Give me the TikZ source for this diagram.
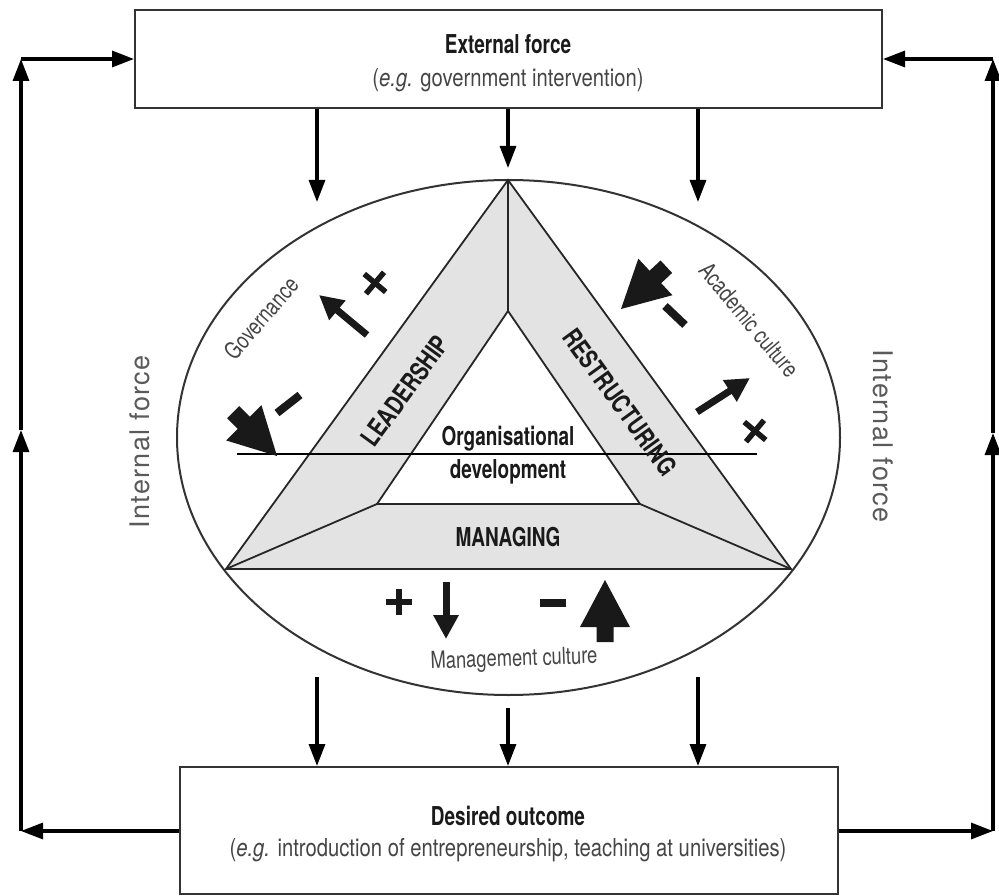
\documentclass[tikz,border=0pt]{standalone}
\usepackage{fontspec}
\setmainfont{TeX Gyre Heros}
\newfontfamily\condB[FakeStretch=0.73]{TeX Gyre Heros}
\newfontfamily\condBB[FakeStretch=0.77]{TeX Gyre Heros}
\newfontfamily\condR[FakeStretch=0.82]{TeX Gyre Heros}
\newfontfamily\condRR[FakeStretch=0.78]{TeX Gyre Heros}
\newfontfamily\wideR[LetterSpace=5]{TeX Gyre Heros}
\usetikzlibrary{arrows.meta}
\definecolor{bandgray}{HTML}{E3E3E3}
\definecolor{txtgray}{HTML}{454545}
\definecolor{lblgray}{HTML}{5A5A5A}
\definecolor{ink}{HTML}{1A1A1A}
\tikzset{
  boxstyle/.style={draw=black!80, line width=2pt, fill=white, inner sep=0pt},
  arr/.style={line width=3.2pt, draw=black, -{Triangle[length=22pt,width=16pt]}},
  titletext/.style={inner sep=0pt, text=ink, font=\condB\bfseries\fontsize{26}{28}\selectfont},
  subtext/.style={inner sep=0pt, text=txtgray, font=\condR\fontsize{24.7}{27}\selectfont},
  bandtext/.style={inner sep=0pt, text=ink, font=\condB\bfseries\fontsize{26}{28}\selectfont},
  rotbandtext/.style={inner sep=0pt, text=ink, font=\condBB\bfseries\fontsize{26}{28}\selectfont},
  graytext/.style={inner sep=0pt, text=txtgray, font=\condRR\fontsize{23.5}{25}\selectfont},
  forcetext/.style={inner sep=0pt, text=lblgray, font=\wideR\fontsize{27}{30}\selectfont},
  signline/.style={line width=5.5pt, draw=black!90},
  dashline/.style={line width=8pt, draw=black!90},
  thinarrow/.style={line width=7pt, draw=black!90, -{Triangle[length=24pt,width=24pt]}},
  bigarrow/.style={fill=black!90},
  triline/.style={line width=1.8pt, draw=black!85},
}
\newcommand\blockarrow[3]{\fill[bigarrow, shift={(#1,#2)}, rotate=#3] (0,0) -- (-47,-25) -- (-47,-8.5) -- (-62,-8.5) -- (-62,8.5) -- (-47,8.5) -- (-47,25) -- cycle;}
\begin{document}
\begin{tikzpicture}[x=1pt,y=-1pt]
\useasboundingbox (0,0) rectangle (999,896);
\fill[white] (0,0) rectangle (999,896);

% boxes
\node[boxstyle, minimum width=747pt, minimum height=98pt] (ext) at (508.5,59) {};
\node[boxstyle, minimum width=658pt, minimum height=127pt] (out) at (509,830.5) {};
\node[titletext] (exttitle) at (508,44) {External force};
\node[subtext] (extsub) at (508,80) {(\textit{e.g.} government intervention)};
\node[titletext] (outtitle) at (508,816) {Desired outcome};
\node[subtext] (outsub) at (508,850) {(\textit{e.g.} introduction of entrepreneurship, teaching at universities)};

% ellipse
\draw[line width=2pt, draw=black!80] (508.5,437.5) ellipse [x radius=331.5, y radius=257.5];

% triangle
\coordinate (A) at (508,180);
\coordinate (BL) at (226,569);
\coordinate (BR) at (791,569);
\coordinate (a) at (508,311);
\coordinate (bl) at (377,504);
\coordinate (br) at (640,504);
\fill[bandgray] (A) -- (BL) -- (BR) -- cycle;
\fill[white] (a) -- (bl) -- (br) -- cycle;
\draw[triline, line join=miter] (A) -- (BL) -- (BR) -- cycle;
\draw[triline, line join=miter] (a) -- (bl) -- (br) -- cycle;
\draw[triline] (A) -- (a);
\draw[triline] (BL) -- (bl);
\draw[triline] (BR) -- (br);

% horizontal line
\coordinate (hl1) at (237,454);
\coordinate (hl2) at (757,454);
\draw[line width=1.6pt, black] (hl1) -- (hl2);

% band texts
\node[bandtext] (org1) at (508,439) {Organisational};
\node[bandtext] (org2) at (508,472) {development};
\node[rotbandtext, rotate=54] (lead) at (405,391) {LEADERSHIP};
\node[rotbandtext, rotate=-54] (restr) at (620,402) {RESTRUCTURING};
\node[bandtext] (manag) at (508,537) {MANAGING};

% gray labels
\node[graytext, rotate=49] (gov) at (261,318) {Governance};
\node[graytext, rotate=-50] (acad) at (749,320) {Academic culture};
\node[graytext, rotate=2] (mgmt) at (514,660) {Management culture};
\node[forcetext, rotate=90] (intl) at (140,442) {Internal force};
\node[forcetext, rotate=-90] (intr) at (883,436) {Internal force};

% governance signs
\coordinate (g1t) at (367,335);
\coordinate (g1h) at (319,295);
\draw[thinarrow] (g1t) -- (g1h);
\draw[signline] (375,283) ++(40:-14) -- ++(40:28);
\draw[signline] (375,283) ++(130:-14) -- ++(130:28);
\draw[dashline] (277,413) -- (300,395);
\blockarrow{277}{456}{-45}

% academic signs
\coordinate (a1t) at (697,412);
\coordinate (a1h) at (750,378);
\draw[thinarrow] (a1t) -- (a1h);
\draw[signline] (755,431) ++(40:-14) -- ++(40:28);
\draw[signline] (755,431) ++(130:-14) -- ++(130:28);
\draw[dashline] (665,306) -- (685,325);
\blockarrow{621}{309}{-137}

% management signs
\coordinate (m1t) at (446,582);
\coordinate (m1h) at (446,639);
\draw[thinarrow] (m1t) -- (m1h);
\draw[signline] (386,602) -- (412,602);
\draw[signline] (399,589) -- (399,615);
\draw[dashline] (540,603) -- (566,603);
\blockarrow{605}{580}{90}

% arrows from external force
\coordinate (t1) at (317,202);
\coordinate (t2) at (508,168);
\coordinate (t3) at (698,202);
\draw[arr] (t1 |- ext.south) -- (t1);
\draw[arr] (t2 |- ext.south) -- (t2);
\draw[arr] (t3 |- ext.south) -- (t3);

% arrows to desired outcome
\coordinate (b1) at (317,677);
\coordinate (b2) at (508,708);
\coordinate (b3) at (698,677);
\draw[arr] (b1) -- (b1 |- out.north);
\draw[arr] (b2) -- (b2 |- out.north);
\draw[arr] (b3) -- (b3 |- out.north);

% feedback loops
\coordinate (tl) at (21,59);
\coordinate (ml) at (21,430);
\coordinate (bll) at (21,831);
\coordinate (tr) at (993,59);
\coordinate (mr) at (993,433);
\coordinate (brr) at (993,831);
\draw[arr] (out.west |- bll) -- (bll);
\draw[arr] (bll) -- (ml);
\draw[arr] (ml) -- (tl);
\draw[arr] (tl) -- (ext.west);
\draw[arr] (out.east |- brr) -- (brr);
\draw[arr] (brr) -- (mr);
\draw[arr] (mr) -- (tr);
\draw[arr] (tr) -- (ext.east);
\end{tikzpicture}
\end{document}
